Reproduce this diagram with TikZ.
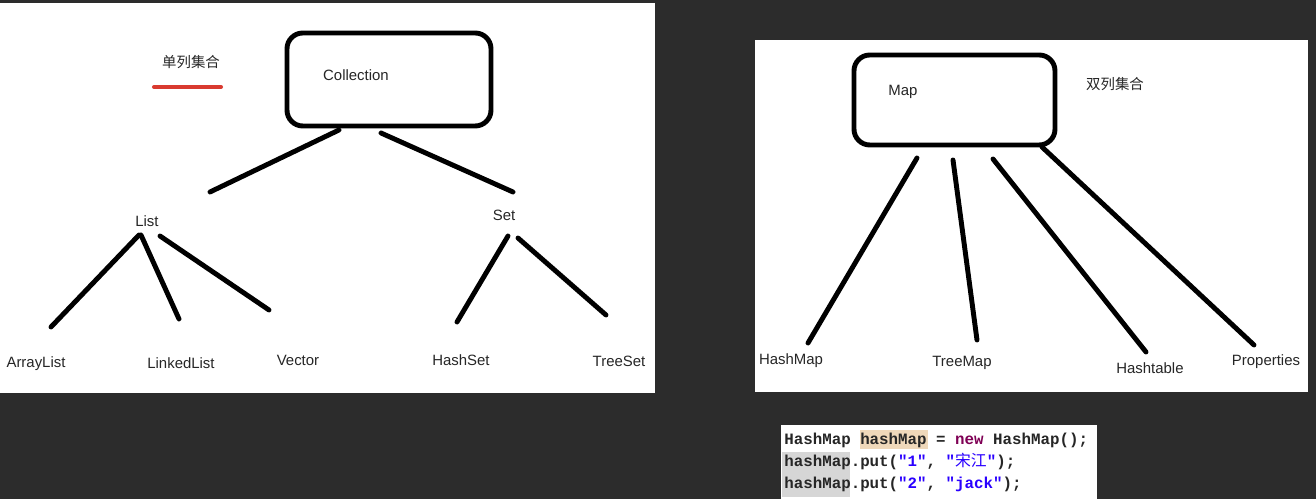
\documentclass[tikz,border=0pt]{standalone}
\usepackage{fontspec}
\setmainfont{Liberation Sans}
\setmonofont{Liberation Mono}
\newfontfamily\cjk{Noto Sans CJK SC}
\usetikzlibrary{positioning}

\definecolor{bgdark}{HTML}{2C2C2C}
\definecolor{inkgrey}{HTML}{262626}
\definecolor{kwpurple}{HTML}{7F0055}
\definecolor{strblue}{HTML}{2A00FF}
\definecolor{hltan}{HTML}{EFD8BA}
\definecolor{hlgrey}{HTML}{D6D6D6}
\definecolor{redline}{HTML}{D93A30}

\tikzset{
  branch/.style={line width=2.8pt,line cap=round},
  groupbox/.style={draw,line width=2.8pt,rounded corners=9pt,inner sep=0pt},
  lbl/.style={font=\fontsize{8.5}{10}\selectfont,text=inkgrey,inner sep=0pt},
  cjklbl/.style={font=\cjk\fontsize{8.2}{10}\selectfont,text=inkgrey,inner sep=0pt},
  codeline/.style={font=\ttfamily\bfseries\fontsize{9}{11}\selectfont,text=inkgrey,inner sep=0pt,anchor=base west}
}

\begin{document}
\begin{tikzpicture}[x=0.02cm,y=-0.02cm]
  % screen and the two white panels
  \fill[bgdark] (0,0) rectangle (1316,499);
  \useasboundingbox (0,0) rectangle (1316,499);
  \fill[white] (0,3) rectangle (655,393);
  \fill[white] (755,40) rectangle (1308,392);

  % single-column collections
  \node[groupbox,minimum width=204*0.02cm,minimum height=93*0.02cm] (collbox) at (389,79.5) {};
  \node[lbl] (coll) at (356,75) {Collection};
  \node[cjklbl] (single) at (191,62) {单列集合};
  \coordinate (ul1) at (154,87);
  \coordinate (ul2) at (221,87);
  \draw[redline,line width=2.3pt,line cap=round] (ul1) -- (ul2);

  \node[lbl] (list) at (147,221) {List};
  \node[lbl] (set) at (504,215) {Set};
  \node[lbl] (arraylist) at (36,364) {ArrayList};
  \node[lbl] (linkedlist) at (181,363) {LinkedList};
  \node[lbl] (vector) at (298,360) {Vector};
  \node[lbl] (hashset) at (461,360) {HashSet};
  \node[lbl] (treeset) at (619,361) {TreeSet};

  \coordinate (c1) at (339,130); \coordinate (c1e) at (210,192);
  \coordinate (c2) at (381,133); \coordinate (c2e) at (513,192);
  \draw[branch] (c1) -- (c1e);
  \draw[branch] (c2) -- (c2e);

  \coordinate (l1) at (139,235); \coordinate (l1e) at (51,327);
  \coordinate (l2) at (141,235); \coordinate (l2e) at (179,319);
  \coordinate (l3) at (160,236); \coordinate (l3e) at (269,310);
  \draw[branch] (l1) -- (l1e);
  \draw[branch] (l2) -- (l2e);
  \draw[branch] (l3) -- (l3e);

  \coordinate (s1) at (508,236); \coordinate (s1e) at (457,322);
  \coordinate (s2) at (518,238); \coordinate (s2e) at (606,315);
  \draw[branch] (s1) -- (s1e);
  \draw[branch] (s2) -- (s2e);

  % two-column collections
  \node[groupbox,minimum width=201*0.02cm,minimum height=90*0.02cm] (mapbox) at (954.5,100) {};
  \node[lbl] (map) at (903,92) {Map};
  \node[cjklbl] (double) at (1115,84) {双列集合};

  \node[lbl] (hashmap) at (791,361) {HashMap};
  \node[lbl] (treemap) at (962,363) {TreeMap};
  \node[lbl] (hashtable) at (1150,368) {Hashtable};
  \node[lbl] (properties) at (1266,362) {Properties};

  \coordinate (m1) at (917,158); \coordinate (m1e) at (808,343);
  \coordinate (m2) at (953,160); \coordinate (m2e) at (977,340);
  \coordinate (m3) at (993,159); \coordinate (m3e) at (1146,352);
  \coordinate (m4) at (1042,147); \coordinate (m4e) at (1254,345);
  \draw[branch] (m1) -- (m1e);
  \draw[branch] (m2) -- (m2e);
  \draw[branch] (m3) -- (m3e);
  \draw[branch] (m4) -- (m4e);

  % code snippet
  \fill[white] (781,425) rectangle (1097,499);
  \fill[hltan] (860,430) rectangle (928,449);
  \fill[hlgrey] (782,452) rectangle (850,497);
  \node[codeline] (code1) at (784,445) {HashMap hashMap = {\color{kwpurple}new} HashMap();};
  \node[codeline] (code2) at (784,467) {hashMap.put({\color{strblue}"1"}, {\color{strblue}"{\cjk\mdseries 宋江}"});};
  \node[codeline] (code3) at (784,489) {hashMap.put({\color{strblue}"2"}, {\color{strblue}"jack"});};
\end{tikzpicture}
\end{document}
